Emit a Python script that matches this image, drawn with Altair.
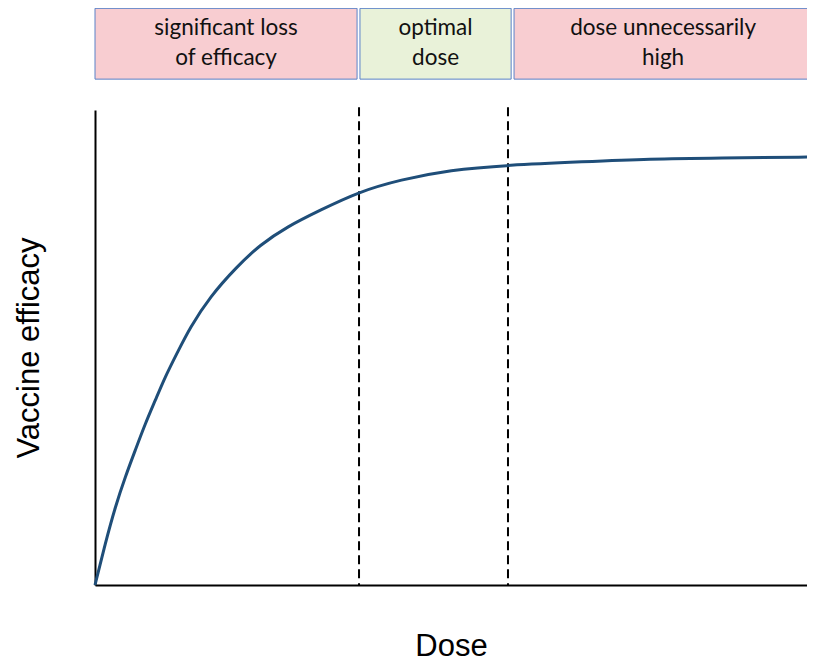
import altair as alt
import pandas as pd

# Curve (dose in arbitrary units, efficacy 0-100)
dose = [0, 0.143, 0.282, 0.421, 0.560, 0.699, 0.838, 0.976, 1.139, 1.319, 1.597,
        1.968, 2.292, 2.663, 3.125, 3.667, 4.236, 4.931, 5.736, 6.778, 7.708, 8.639, 10]
efficacy = [0, 8.8, 16.5, 22.8, 28.4, 34.0, 38.9, 43.9, 48.8, 54.2, 60.7,
            67.0, 71.6, 75.4, 78.9, 82.8, 85.3, 87.4, 88.4, 89.1, 89.7, 89.9, 90.1]

# Dashed boundaries
boundaries = [3.667, 5.736]

# Zones shown above the plot
zone_start = [0.0, 3.68, 5.82]
zone_end = [3.64, 5.78, 9.96]
zone_labels = ["significant loss\nof efficacy", "optimal\ndose", "dose unnecessarily\nhigh"]
zone_kind = ["bad", "good", "bad"]

curve_df = pd.DataFrame({"dose": dose, "efficacy": efficacy})
bound_df = pd.DataFrame({"dose": boundaries, "top": [100.6] * len(boundaries), "bottom": [0] * len(boundaries)})
zone_df = pd.DataFrame({
    "start": zone_start, "end": zone_end, "label": zone_labels, "kind": zone_kind,
    "mid": [(a + b) / 2 for a, b in zip(zone_start, zone_end)],
    "ytop": [121.4] * 3, "ybot": [106.5] * 3, "ytext": [115.8] * 3,
})

xs = alt.Scale(domain=[0, 9.889], nice=False, zero=False)
ys = alt.Scale(domain=[0, 100], nice=False)

curve = alt.Chart(curve_df).mark_line(
    color="#1f4e79", strokeWidth=3, interpolate="basis"
).encode(
    x=alt.X("dose:Q", scale=xs, axis=alt.Axis(
        title="Dose", labels=False, ticks=False, grid=False, domainColor="black",
        domainWidth=2, titleFont="Liberation Sans", titleFontSize=31,
        titleFontWeight="normal", titleColor="black", titlePadding=46)),
    y=alt.Y("efficacy:Q", scale=ys, axis=alt.Axis(
        title="Vaccine efficacy", labels=False, ticks=False, grid=False,
        domainColor="black", domainWidth=2, titleFont="Liberation Sans",
        titleFontSize=31, titleFontWeight="normal", titleColor="black",
        titlePadding=50)),
)

rules = alt.Chart(bound_df).mark_rule(
    color="black", strokeWidth=2, strokeDash=[9, 5]
).encode(
    x=alt.X("dose:Q", scale=xs),
    y=alt.Y("top:Q", scale=ys),
    y2="bottom:Q",
)

boxes = alt.Chart(zone_df).mark_rect(
    stroke="#5a82c8", strokeWidth=1
).encode(
    x=alt.X("start:Q", scale=xs),
    x2="end:Q",
    y=alt.Y("ytop:Q", scale=ys),
    y2="ybot:Q",
    fill=alt.Fill("kind:N", scale=alt.Scale(domain=["bad", "good"], range=["#f8cdd1", "#e9f2d9"]), legend=None),
)

labels = alt.Chart(zone_df).mark_text(
    font="Lato", fontSize=22.5, color="#111111", lineBreak="\n", lineHeight=30,
    baseline="alphabetic", align="center"
).encode(
    x=alt.X("mid:Q", scale=xs),
    y=alt.Y("ytext:Q", scale=ys),
    text="label:N",
)

chart = alt.layer(boxes, rules, curve, labels).properties(
    width=712, height=475,
    autosize=alt.AutoSizeParams(type="none"),
    padding={"left": 87, "top": 102, "right": 0, "bottom": 79},
).configure_view(stroke=None)

chart.save("out.html", embed_options={"renderer": "svg", "actions": False})
